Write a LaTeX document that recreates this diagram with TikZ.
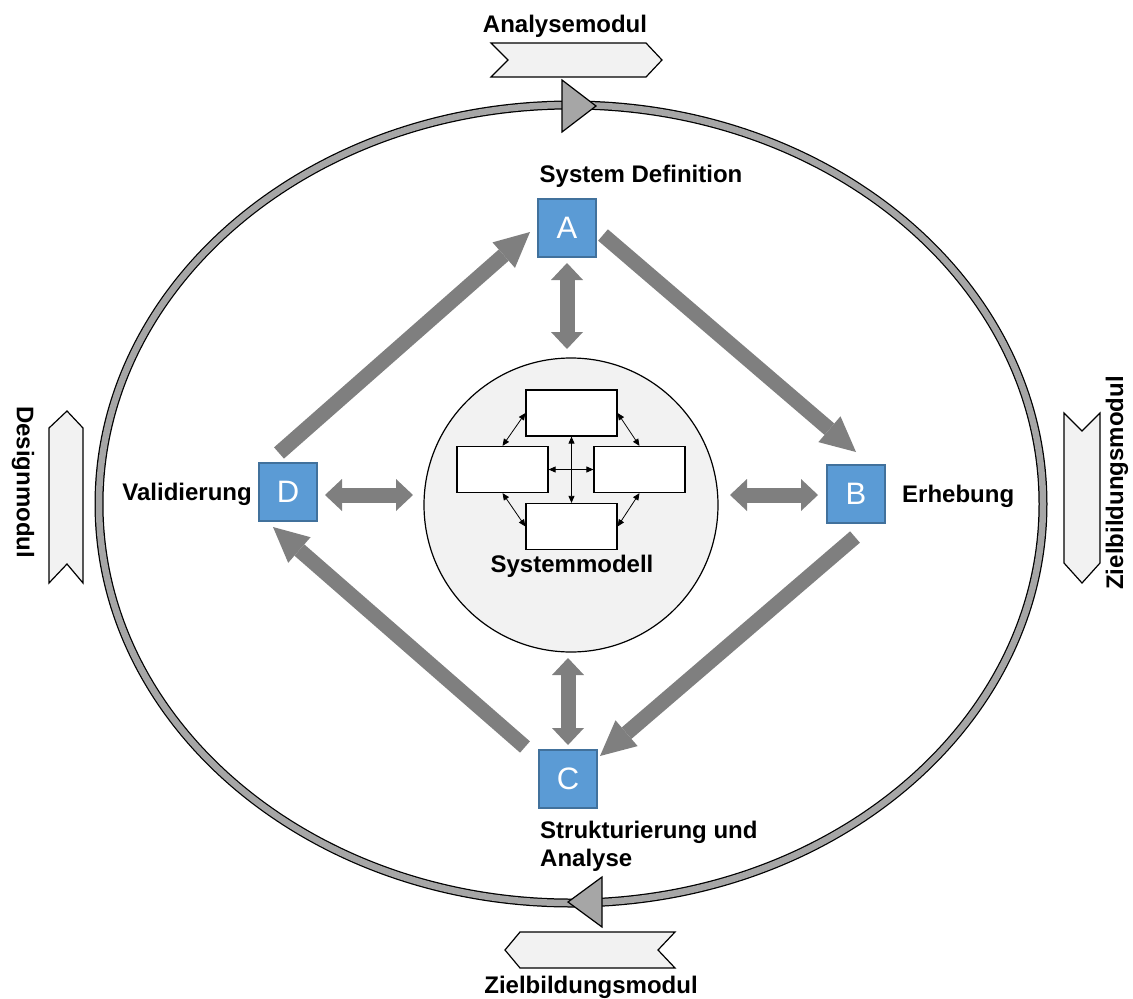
\documentclass[tikz,border=0pt]{standalone}
\usepackage{fontspec}
\setmainfont{Liberation Sans}
\usetikzlibrary{arrows.meta,calc}
\definecolor{arrgray}{HTML}{7F7F7F}
\definecolor{boxblue}{HTML}{5B9BD5}
\definecolor{boxborder}{HTML}{41719C}
\definecolor{lightfill}{HTML}{F2F2F2}
\definecolor{trigray}{HTML}{A6A6A6}
\begin{document}
\begin{tikzpicture}[x=1pt,y=-1pt,
  lbl/.style={font=\fontsize{24}{28}\selectfont\bfseries, inner sep=0pt},
  phase/.style={draw=boxborder, fill=boxblue, line width=1.5pt, minimum size=58pt, inner sep=0pt, text=white, font=\fontsize{31}{35}\selectfont},
  smbox/.style={draw, fill=white, line width=1.2pt, minimum width=91pt, minimum height=46pt, inner sep=0pt},
  bigarr/.style={arrgray, line width=15pt, -{Triangle[length=35pt,width=34pt,line width=0pt]}},
  dblarr/.style={arrgray, line width=15pt, {Triangle[length=17pt,width=32pt,line width=0pt]}-{Triangle[length=17pt,width=32pt,line width=0pt]}},
  thinarr/.style={line width=0.8pt, {Triangle[length=7pt,width=6pt]}-{Triangle[length=7pt,width=6pt]}},
  chev/.style={draw, fill=lightfill, line width=1.2pt, line join=miter},
  tri/.style={draw, fill=trigray, line width=1.2pt}
]
\useasboundingbox (0,0) rectangle (1133,999);

% outer ring
\draw[line width=9pt] (571,504) ellipse [x radius=472, y radius=399];
\draw[trigray, line width=6.5pt] (571,504) ellipse [x radius=472, y radius=399];

% direction triangles on the ring
\draw[tri] (562,80) -- (596,106) -- (562,132) -- cycle;
\draw[tri] (602,877) -- (568,902) -- (602,927) -- cycle;

% chevrons
\draw[chev] (491,43) -- (646,43) -- (662,60) -- (646,77) -- (491,77) -- (508,60) -- cycle;
\draw[chev] (505,950) -- (520,932) -- (675,932) -- (658,950) -- (675,968) -- (520,968) -- cycle;
\draw[chev] (49,428) -- (67,411) -- (83,428) -- (83,583) -- (67,564) -- (49,583) -- cycle;
\draw[chev] (1064,413) -- (1082,431) -- (1100,413) -- (1100,563) -- (1082,583) -- (1064,563) -- cycle;

% module labels
\node[lbl, anchor=base] (lan) at (565,32) {Analysemodul};
\node[lbl, anchor=base] (lzb) at (591,993) {Zielbildungsmodul};
\node[lbl, rotate=-90] (lds) at (23,482) {Designmodul};
\node[lbl, rotate=90] (lzr) at (1117,483) {Zielbildungsmodul};

% central system model
\node[draw, circle, fill=lightfill, line width=1.2pt, minimum size=294pt, inner sep=0pt] (S) at (571,505) {};
\node[smbox] (t) at (571.5,413) {};
\node[smbox] (l) at (502.5,469.5) {};
\node[smbox] (r) at (639.5,469.5) {};
\node[smbox] (b) at (571.5,526.5) {};
\draw[thinarr] (t.south) -- (b.north);
\draw[thinarr] (l.east) -- (r.west);
\draw[thinarr] (t.west) -- (l.north);
\draw[thinarr] (t.east) -- (r.north);
\draw[thinarr] (l.south) -- (b.west);
\draw[thinarr] (r.south) -- (b.east);
\node[lbl, anchor=base] (sm) at (572,572) {Systemmodell};

% phase boxes
\node[phase] (A) at (567,228) {A};
\node[phase] (B) at (856,494) {B};
\node[phase] (C) at (568,779) {C};
\node[phase] (D) at (288,492) {D};

% phase labels
\node[lbl, anchor=base] (lA) at (641,182) {System Definition};
\node[lbl, anchor=base west] (lB) at (902,502) {Erhebung};
\node[lbl, anchor=base east] (lD) at (252,500) {Validierung};
\node[lbl, anchor=north west, align=left] (lC) at (540,821) {Strukturierung und\\Analyse};

% big cycle arrows
\coordinate (da0) at (279,453);
\coordinate (da1) at (530,232);
\coordinate (ab0) at (603,235);
\coordinate (ab1) at (856,452);
\coordinate (bc0) at (855,537);
\coordinate (bc1) at (600,756);
\coordinate (cd0) at (525,747);
\coordinate (cd1) at (273,527);
\draw[bigarr] (da0) -- (da1);
\draw[bigarr] (ab0) -- (ab1);
\draw[bigarr] (bc0) -- (bc1);
\draw[bigarr] (cd0) -- (cd1);

% double arrows to the system model
\coordinate (as0) at (567,263);
\coordinate (as1) at (567,349);
\coordinate (cs0) at (568,658);
\coordinate (cs1) at (568,745);
\coordinate (ds0) at (325,495);
\coordinate (ds1) at (413,495);
\coordinate (bs0) at (730,495);
\coordinate (bs1) at (818,495);
\draw[dblarr] (as0) -- (as1);
\draw[dblarr] (cs0) -- (cs1);
\draw[dblarr] (ds0) -- (ds1);
\draw[dblarr] (bs0) -- (bs1);
\end{tikzpicture}
\end{document}
